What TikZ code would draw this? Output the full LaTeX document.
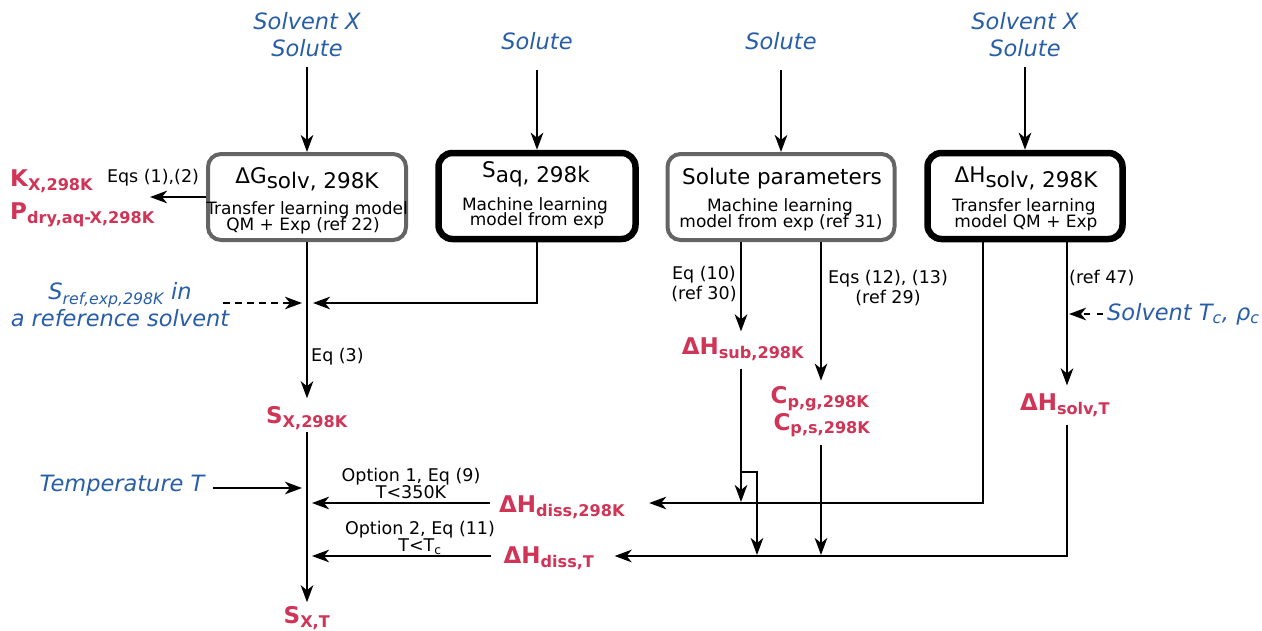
\documentclass[tikz,border=0pt]{standalone}
\usepackage{fontspec}
\setmainfont{DejaVu Sans}
\usetikzlibrary{arrows.meta}
\definecolor{myred}{RGB}{208,52,86}
\definecolor{myblue}{RGB}{40,94,168}
\definecolor{boxgray}{RGB}{100,100,100}
\newcommand{\upr}[1]{\raisebox{5pt}{#1}}
\begin{document}
\begin{tikzpicture}[x=1pt,y=-1pt,
  lab/.style={text=myblue, font=\fontsize{22.5}{27}\selectfont\itshape, align=center, inner sep=0pt},
  note/.style={font=\fontsize{17.5}{20}\selectfont, align=center, inner sep=0pt},
  ttl/.style={font=\fontsize{21.5}{24}\selectfont, anchor=base, inner sep=0pt},
  sub/.style={font=\fontsize{17}{18}\selectfont, anchor=base, inner sep=0pt},
  red/.style={text=myred, font=\fontsize{23}{26}\selectfont\bfseries, inner sep=2pt},
  boxg/.style={draw=boxgray, line width=4pt, rounded corners=13pt, fill=white, inner sep=0pt},
  boxk/.style={draw=black, line width=6.5pt, rounded corners=14pt, fill=white, inner sep=0pt},
  arr/.style={line width=2.5pt, -{Stealth[length=17pt,width=12.5pt,inset=5pt]}},
  ln/.style={line width=2.5pt},
  dsh/.style={dash pattern=on 7pt off 5pt}]
\useasboundingbox (0,0) rectangle (1262,630);

% top inputs
\node[lab] (top1) at (307,35) {Solvent X\\Solute};
\node[lab] (top2) at (537,41) {Solute};
\node[lab] (top3) at (781,41) {Solute};
\node[lab] (top4) at (1025,35) {Solvent X\\Solute};

% boxes
\node[boxg, minimum width=198pt, minimum height=86pt] (b1) at (307,197) {};
\node[boxk, minimum width=197pt, minimum height=86pt] (b2) at (537,196) {};
\node[boxg, minimum width=227pt, minimum height=86pt] (b3) at (781,197) {};
\node[boxk, minimum width=195pt, minimum height=86pt] (b4) at (1025,196) {};

\node[ttl] (t1) at (307,188) {\upr{ΔG}solv, 298K};
\node[sub] (s1a) at (307,214) {Transfer learning model};
\node[sub] (s1b) at (303,230) {QM + Exp (ref 22)};
\node[ttl] (t2) at (536,182) {\upr{S}aq, 298k};
\node[sub] (s2a) at (535,210) {Machine learning};
\node[sub] (s2b) at (537,225) {model from exp};
\node[ttl] (t3) at (782,184) {Solute parameters};
\node[sub] (s3a) at (780,211) {Machine learning};
\node[sub] (s3b) at (781,227) {model from exp (ref 31)};
\node[ttl] (t4) at (1026,187) {\upr{ΔH}solv, 298K};
\node[sub] (s4a) at (1024,211) {Transfer learning};
\node[sub] (s4b) at (1026,227) {model QM + Exp};

\foreach \i/\s in {1/10,2/20,3/20,4/10} \draw[arr] ([yshift=-\s pt]top\i.south) -- (b\i.north);

% left outputs of box 1
\node[red, anchor=west] (kx) at (8,181) {K\textsubscript{X,298K}};
\node[red, anchor=west] (pdry) at (8,215) {P\textsubscript{dry,aq-X,298K}};
\coordinate (c1) at ([xshift=-56pt]b1.west);
\draw[arr] (b1.west) -- (c1);
\node[note] (eq12) at (153,178) {Eqs (1),(2)};

% S_X,298K
\node[red] (sx) at (307,418) {S\textsubscript{X,298K}};
\draw[arr] (b1.south) -- ([yshift=6pt]sx.north -| b1.south);
\coordinate (c2) at (313,303);
\draw[arr] (b2.south) |- (c2);
\node[lab] (sref) at (120,305) {S\textsubscript{ref,exp,298K} in\\a reference solvent};
\coordinate (c3s) at (223,303);
\coordinate (c3e) at (302,303);
\draw[arr, dsh] (c3s) -- (c3e);
\node[note, anchor=west] (eq3) at (311,357) {Eq (3)};

% S_X,T
\node[red] (sxt) at (307,618) {S\textsubscript{X,T}};
\draw[arr] (sx.south -| b1.south) -- ([yshift=2pt]sxt.north -| b1.south);
\node[lab] (temp) at (122,486) {Temperature T};
\coordinate (c4) at (302,488);
\draw[arr] (temp.east |- c4) ++(8pt,0) -- (c4);

% dissolution enthalpies
\node[red] (dh298) at (562,507) {ΔH\textsubscript{diss,298K}};
\node[red] (dhT) at (549,558) {ΔH\textsubscript{diss,T}};
\coordinate (o1) at (312,503);
\coordinate (o2) at (312,556);
\draw[arr] ([xshift=-7pt]dh298.west |- o1) -- (o1);
\draw[arr] ([xshift=-10pt]dhT.west |- o2) -- (o2);
\node[note] (opt1) at (411,483) {Option 1, Eq (9)\\[-3pt]T<350K};
\node[note] (opt2) at (420,538) {Option 2, Eq (11)\\[-3pt]T<T\textsubscript{c}};

% box 3 outputs
\node[red] (dhsub) at (743,349) {ΔH\textsubscript{sub,298K}};
\node[red] (cpg) at (820,399) {C\textsubscript{p,g,298K}};
\node[red] (cps) at (822,425) {C\textsubscript{p,s,298K}};
\coordinate (x3a) at ([xshift=-40pt]b3.south);
\coordinate (x3b) at ([xshift=40pt]b3.south);
\draw[arr] (x3a) -- ([yshift=4pt]x3a |- dhsub.north);
\draw[arr] (x3b) -- ([yshift=4pt]x3b |- cpg.north);
\node[note] (eq10) at (704,284) {Eq (10)\\(ref 30)};
\node[note] (eq1213) at (888,288) {Eqs (12), (13)\\(ref 29)};

\coordinate (m1) at (741,502);
\coordinate (br) at (741,472);
\coordinate (m2) at (757,555);
\coordinate (m3) at (821,555);
\draw[arr] ([yshift=-6pt]m1 |- dhsub.south) -- (m1);
\draw[arr] (br) -| (m2);
\draw[arr] ([yshift=-6pt]m3 |- cps.south) -- (m3);

% box 4 outputs
\node[red] (dhsolvT) at (1065,405) {ΔH\textsubscript{solv,T}};
\coordinate (x4a) at ([xshift=-42pt]b4.south);
\coordinate (x4b) at ([xshift=42pt]b4.south);
\draw[arr] (x4b) -- ([yshift=6pt]x4b |- dhsolvT.north);
\node[note, anchor=west] (ref47) at (1069,278) {(ref 47)};
\node[lab, anchor=west] (solvT) at (1107,314) {Solvent T\textsubscript{c}, ρ\textsubscript{c}};
\coordinate (c8) at ([xshift=2pt]x4b |- 0,314);
\draw[arr, dash pattern=on 6pt off 7pt] ([xshift=-4pt]solvT.west) -- (c8);

\draw[arr] (x4a) |- ([xshift=22pt]dh298.east |- o1);
\draw[arr] ([yshift=-6pt]x4b |- dhsolvT.south) |- ([xshift=18pt]dhT.east |- o2);
\end{tikzpicture}
\end{document}
